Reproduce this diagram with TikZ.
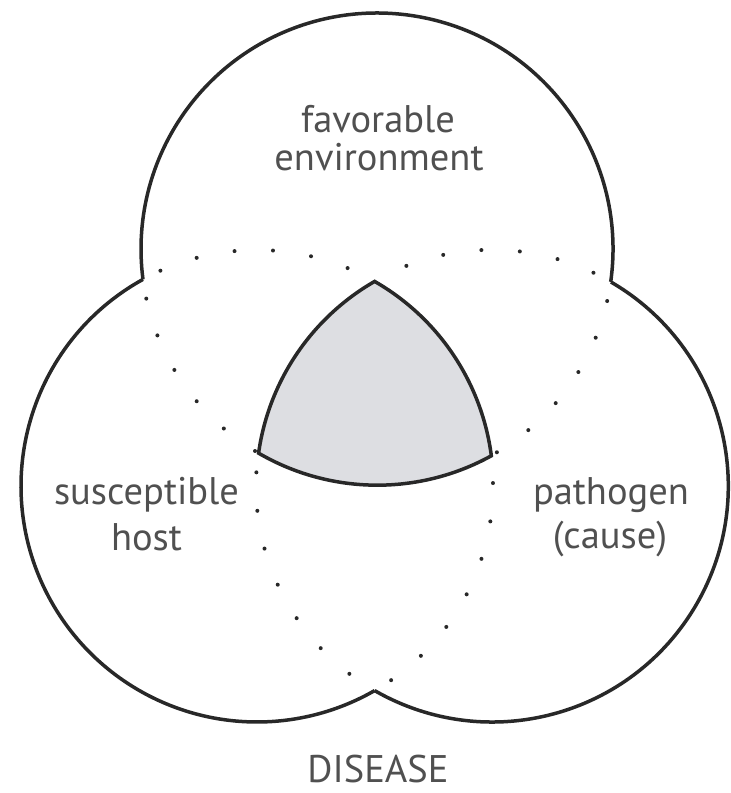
\documentclass[tikz,border=0pt]{standalone}
\usepackage{fontspec}
\setmainfont{PT Sans}
\usetikzlibrary{calc}
\definecolor{linec}{RGB}{40,40,40}
\definecolor{grayfill}{RGB}{221,222,226}
\definecolor{textc}{RGB}{80,80,80}
\begin{document}
\begin{tikzpicture}[x=1pt,y=1pt,
  outline/.style={draw=linec,line width=3.5pt},
  dotline/.style={draw=linec,line width=4pt,line cap=round,dash pattern=on 0pt off 38.5pt,dash phase=19pt},
  lbl/.style={text=textc,font=\fontsize{38.5}{40}\selectfont,anchor=base,inner sep=0pt}]
\useasboundingbox (0,0) rectangle (731,793);
% circle centres
\coordinate (T) at (377,544);
\coordinate (L) at (257,307);
\coordinate (R) at (492,307);
% key points
\coordinate (A) at ($(T)+(187.4:236)$);
\coordinate (B) at ($(T)+(-8.0:236)$);
\coordinate (C) at ($(T)+(239.8:236)$);
\coordinate (D) at ($(T)+(298.9:236)$);
\coordinate (E) at ($(L)+(60.1:236)$);
\coordinate (F) at ($(L)+(299.9:236)$);
% grey triple intersection
\path[fill=grayfill] (E) arc[start angle=119.9,end angle=172,radius=236]
  arc[start angle=239.8,end angle=298.9,radius=236]
  arc[start angle=7.4,end angle=60.1,radius=236] -- cycle;
\draw[outline,line join=miter] (E) arc[start angle=119.9,end angle=172,radius=236]
  arc[start angle=239.8,end angle=298.9,radius=236]
  arc[start angle=7.4,end angle=60.1,radius=236] -- cycle;
% outer outline
\draw[outline] (B) arc[start angle=-8.0,end angle=187.4,radius=236];
\draw[outline] (A) arc[start angle=118.9,end angle=299.9,radius=236];
\draw[outline] (F) arc[start angle=240.1,end angle=419.8,radius=236];
% dotted interior arcs
\draw[dotline] (A) arc[start angle=187.4,end angle=239.8,radius=236];
\draw[dotline] (B) arc[start angle=-8.0,end angle=-61.1,radius=236];
\draw[dotline] (A) arc[start angle=118.9,end angle=60.1,radius=236];
\draw[dotline] (F) arc[start angle=-60.1,end angle=7.4,radius=236];
\draw[dotline] (B) arc[start angle=59.8,end angle=119.9,radius=236];
\draw[dotline] (C) arc[start angle=172,end angle=240.1,radius=236];
% labels
\node[lbl] (fav) at (378,660) {favorable};
\node[lbl] (env) at (379,622.5) {environment};
\node[lbl] (sus) at (146.5,288) {susceptible};
\node[lbl] (host) at (146.5,242.5) {host};
\node[lbl] (pat) at (611,288) {pathogen};
\node[lbl] (cau) at (610,244.5) {(cause)};
\node[lbl] (dis) at (378,10) {DISEASE};
\end{tikzpicture}
\end{document}
